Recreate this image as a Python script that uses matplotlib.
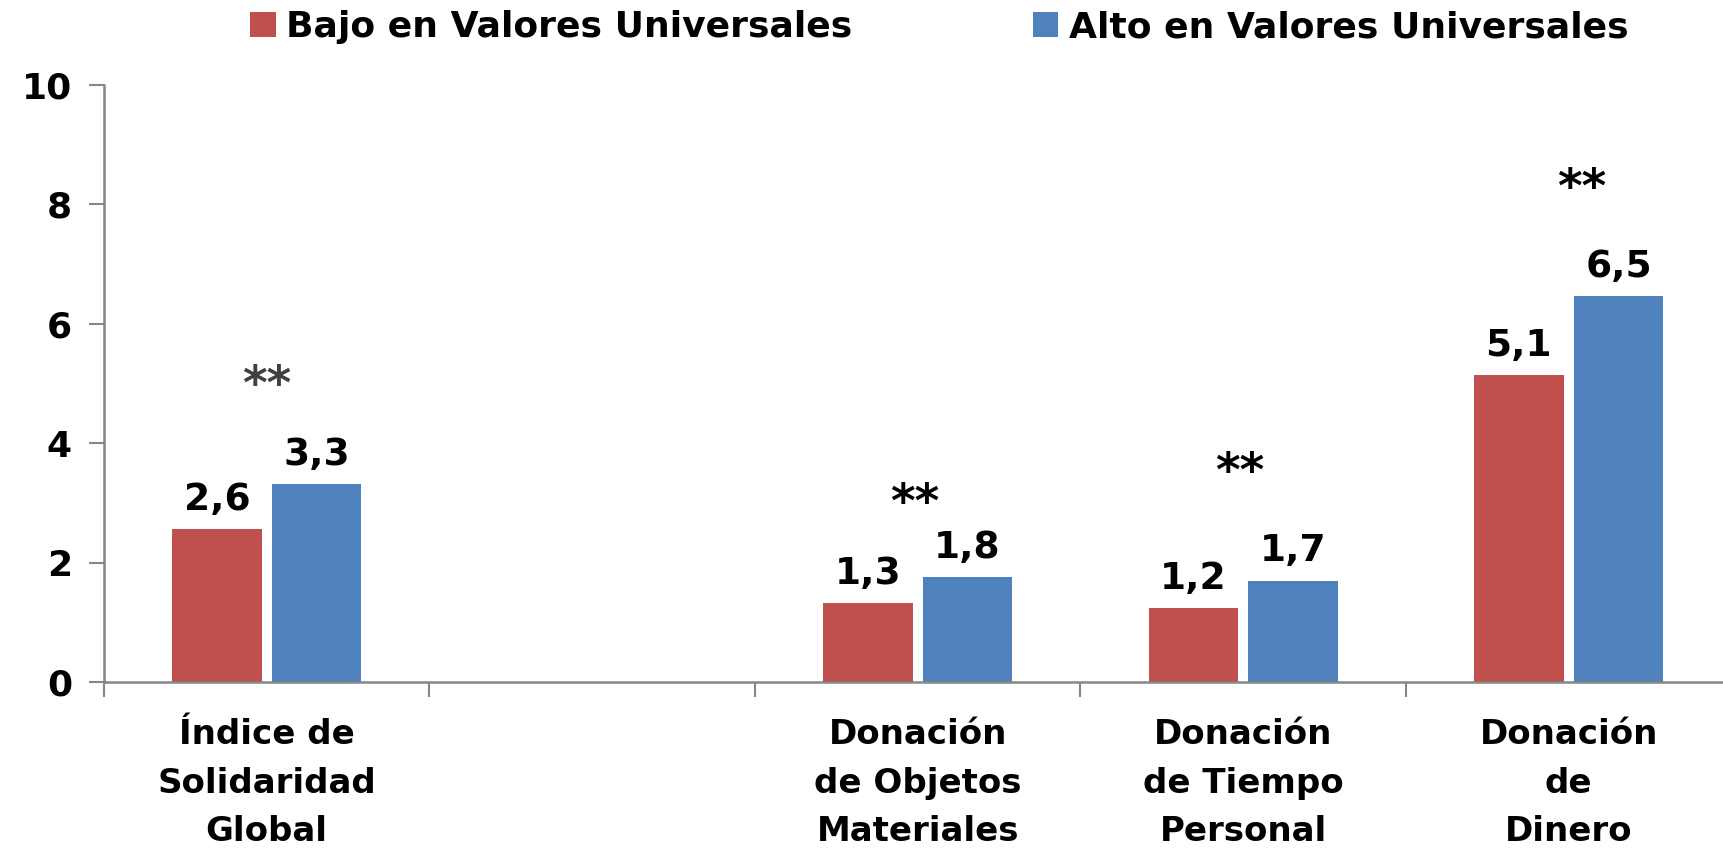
import numpy as np
import matplotlib.pyplot as plt

plt.rcParams['font.family'] = ['DejaVu Sans']
plt.rcParams['font.weight'] = 'bold'

# ============================================================
# 資料
# ============================================================

categories = ['Índice de\nSolidaridad\nGlobal', '',
              'Donación\nde Objetos\nMateriales',
              'Donación\nde Tiempo\nPersonal',
              'Donación\nde\nDinero']
bajo = [2.57, np.nan, 1.32, 1.24, 5.14]
alto = [3.31, np.nan, 1.76, 1.70, 6.47]
series_names = ['Bajo en Valores Universales', 'Alto en Valores Universales']

# significance marks (** above each pair)
star_pos = [0, 2, 3, 4]
star_y = [4.95, 2.98, 3.5, 8.25]
star_dx = [0.0, -0.01, -0.01, 0.04]
star_color = ['#404040', 'black', 'black', 'black']

RED = '#c0504d'
BLUE = '#4f81bd'
AXIS_GRAY = '#868686'

# ============================================================
# 繪圖
# ============================================================

fig = plt.figure(figsize=(17.24, 8.58), dpi=100)
ax = fig.add_axes([0.0603, 0.205, 0.944, 0.696])

x = np.arange(len(categories))
w = 0.275
off = 0.153
bars_b = ax.bar(x - off, bajo, w, color=RED, label=series_names[0])
bars_a = ax.bar(x + off, alto, w, color=BLUE, label=series_names[1])

for bars, vals in [(bars_b, bajo), (bars_a, alto)]:
    for bar, v in zip(bars, vals):
        if np.isnan(v):
            continue
        ax.annotate(f'{v:.1f}'.replace('.', ','),
                    (bar.get_x() + bar.get_width() / 2, v),
                    xytext=(0, 8), textcoords='offset points',
                    ha='center', va='bottom', fontsize=27, fontweight='bold')

for i, yy, dx, c in zip(star_pos, star_y, star_dx, star_color):
    ax.text(i + dx, yy, '**', ha='center', va='center',
            fontsize=34, fontweight='bold', color=c)

ax.set_xlim(-0.5, len(categories) - 0.5)
ax.set_ylim(0, 10)
ax.set_yticks([0, 2, 4, 6, 8, 10])
ax.tick_params(axis='y', length=11, width=1.5, color=AXIS_GRAY,
               labelsize=26, pad=12)

ax.set_xticks(x)
ax.set_xticklabels(categories, fontsize=24.5, fontweight='bold', linespacing=1.6)
ax.tick_params(axis='x', which='major', length=0, pad=26)
ax.set_xticks(np.arange(len(categories)) - 0.5, minor=True)
ax.tick_params(axis='x', which='minor', length=11, width=1.5, color=AXIS_GRAY)

for s in ['top', 'right']:
    ax.spines[s].set_visible(False)
for s in ['left', 'bottom']:
    ax.spines[s].set_color(AXIS_GRAY)
    ax.spines[s].set_linewidth(1.8)

fig.legend(loc='center', bbox_to_anchor=(0.545, 0.968), ncol=2, frameon=False,
           fontsize=26, handlelength=0.7, handleheight=0.7,
           handletextpad=0.3, columnspacing=5.0)

fig.savefig('out.png', dpi=100)
